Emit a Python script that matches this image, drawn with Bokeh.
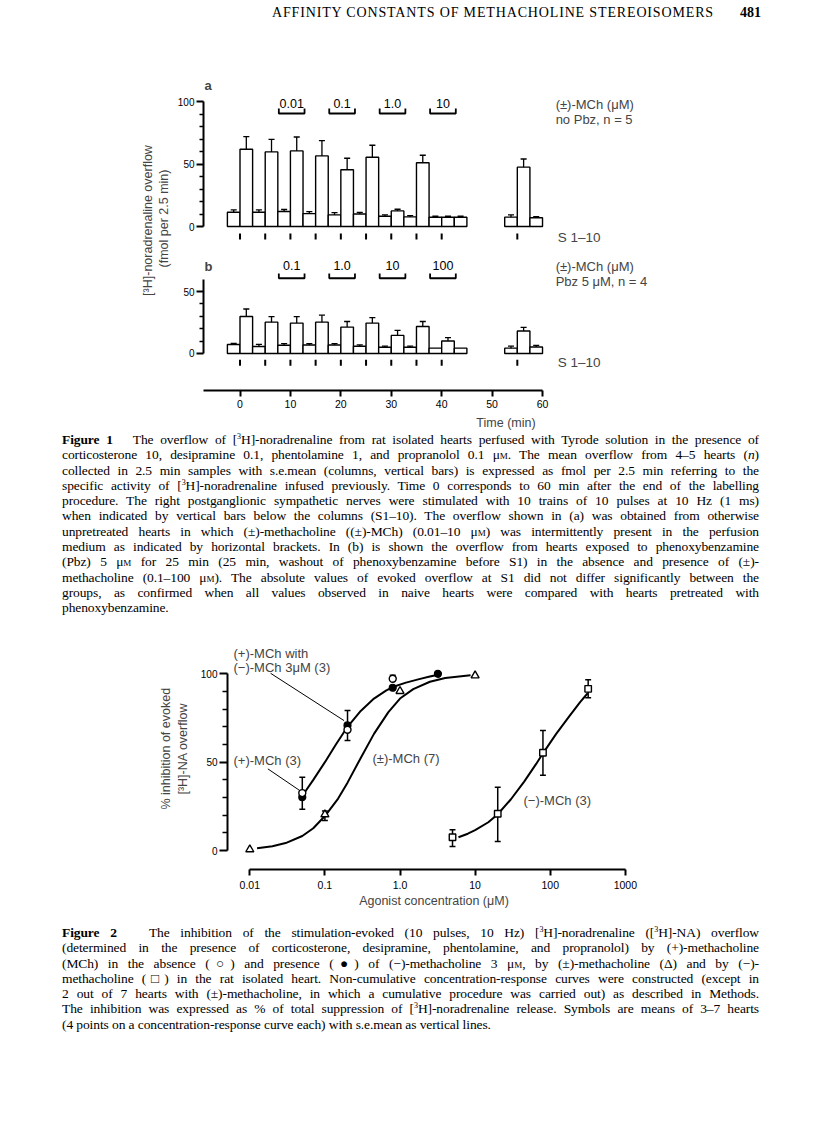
import numpy as np
from math import pi
from bokeh.plotting import figure
from bokeh.models import Range1d, FixedTicker, Label, Div, Spacer
from bokeh.layouts import column, row
from bokeh.embed import file_html
from bokeh.resources import INLINE
from bokeh.core.properties import value

SANS = "Liberation Sans"
SERIF = "Liberation Serif"

# ---------------- Figure 1 data ----------------
bin_start = [-2.5, 0.0, 2.5, 5.0, 7.5, 10.0, 12.5, 15.0, 17.5, 20.0, 22.5, 25.0,
             27.5, 30.0, 32.5, 35.0, 37.5, 40.0, 42.5, 52.5, 55.0, 57.5]
BIN_WIDTH = 2.5
a_mean = [11.4, 61.8, 11.4, 59.7, 12.0, 60.5, 10.3, 56.5, 9.3, 45.4, 10.0, 55.4,
          8.2, 12.5, 7.7, 51.0, 7.4, 7.4, 7.4, 7.5, 47.5, 7.0]
a_sem = [1.9, 10.1, 1.9, 10.0, 1.6, 11.1, 1.6, 12.2, 1.8, 9.2, 1.3, 9.6,
         1.1, 1.3, 1.0, 6.0, 0.8, 0.8, 0.8, 1.8, 6.5, 0.8]
b_mean = [7.2, 29.8, 5.6, 25.3, 6.6, 24.5, 6.9, 25.3, 6.9, 21.3, 5.9, 24.5,
          5.0, 14.6, 5.0, 21.8, 4.3, 10.1, 4.3, 4.3, 18.1, 5.3]
b_sem = [1.0, 6.1, 1.8, 4.5, 1.4, 5.3, 1.0, 5.6, 1.0, 4.5, 1.0, 4.5,
         1.0, 4.0, 1.0, 4.0, 0.0, 2.7, 0.0, 1.6, 2.9, 1.3]
stim_times = [0, 5, 10, 15, 20, 25, 30, 35, 40, 55]
drug_start = [7.7, 17.7, 27.7, 37.7]
drug_end = [12.8, 22.8, 32.8, 42.8]
a_conc_labels = ["0.01", "0.1", "1.0", "10"]
b_conc_labels = ["0.1", "1.0", "10", "100"]
time_ticks = [0, 10, 20, 30, 40, 50, 60]

# ---------------- Figure 2 data ----------------
plus_x = [0.05, 0.2, 0.8]
plus_y = [32.5, 68.3, 97.2]
plus_up = [9.0, 0.0, 2.0]
plus_dn = [0.0, 6.0, 0.0]
plusminus3_x = [0.05, 0.2, 0.8, 3.2]
plusminus3_y = [30.2, 70.8, 92.1, 100.0]
plusminus3_up = [0.0, 8.4, 0.0, 0.0]
plusminus3_dn = [6.8, 0.0, 0.0, 0.0]
race_x = [0.01, 0.1, 1.0, 10.0]
race_y = [0.6, 20.4, 90.2, 99.0]
race_up = [0.0, 2.0, 0.0, 0.0]
race_dn = [0.0, 3.4, 0.0, 0.0]
minus_x = [5.0, 20.0, 80.0, 320.0]
minus_y = [7.5, 20.8, 55.3, 91.5]
minus_up = [4.2, 15.0, 12.6, 5.1]
minus_dn = [5.2, 15.7, 12.7, 5.1]
# curves
curveA_x = [0.052, 0.07, 0.1, 0.14, 0.2, 0.3, 0.45, 0.65, 0.8, 1.2, 1.8, 2.5, 3.2]
curveA_y = [32.0, 40.0, 50.0, 60.0, 70.0, 79.0, 86.0, 90.5, 92.5, 95.0, 97.0, 98.5, 99.5]
curveB_x = [0.0125, 0.02, 0.03, 0.05, 0.07, 0.1, 0.15, 0.2, 0.3, 0.45, 0.7, 1.0, 1.5, 2.5, 4.0, 8.7]
curveB_y = [1.3, 2.4, 4.2, 8.2, 12.6, 19.5, 29.4, 38.4, 52.4, 66.0, 78.3, 86.0, 91.3, 95.5, 97.6, 99.2]
curveC_x = [6.0, 8.0, 10.0, 15.0, 20.0, 30.0, 45.0, 65.0, 80.0, 120.0, 180.0, 250.0, 315.0]
curveC_y = [7.5, 9.5, 11.5, 16.0, 20.5, 29.0, 39.0, 49.0, 55.0, 66.0, 76.0, 84.0, 89.0]
conc_ticks = [0.01, 0.1, 1.0, 10.0, 100.0, 1000.0]
conc_tick_labels = ["0.01", "0.1", "1.0", "10", "100", "1000"]


def clean(p):
    p.grid.visible = False
    p.outline_line_color = None
    p.background_fill_color = "white"
    p.border_fill_color = "white"


def style_axis(ax, font_size="10px"):
    ax.axis_line_width = 2
    ax.axis_line_color = "black"
    ax.major_tick_line_width = 2
    ax.minor_tick_line_width = 1.5
    ax.major_tick_in = 0
    ax.minor_tick_in = 0
    ax.major_label_text_font = SANS
    ax.major_label_text_font_size = font_size
    ax.major_label_text_color = "black"
    ax.axis_label_text_font = SANS
    ax.axis_label_text_font_style = "normal"
    ax.axis_label_text_font_size = "12.5px"


def label_fig(width, height, items):
    f = figure(width=width, height=height, x_range=Range1d(0, width), y_range=Range1d(0, height),
               x_axis_location=None, y_axis_location=None, toolbar_location=None,
               output_backend="svg", title=None, min_border=0)
    clean(f)
    for txt, xx, yy in items:
        f.add_layout(Label(x=xx, y=yy, text=txt, angle=pi / 2, text_font=SANS,
                           text_font_size="12.5px", text_align="center", text_baseline="middle"))
    return f


# ---------------- Figure 1 panels ----------------
PX_PER_MIN = 5.042
PANEL_W = 635
BORDER_L = 30
X0 = -7.24
x_end = X0 + (PANEL_W - BORDER_L) / PX_PER_MIN


def bar_panel(mean, sem, height, y_start, y_end, axis_top, ticks, minor, time_axis,
              border_bottom, stim_y, bracket_y, conc_labels, panel_letter, letter_y,
              right_lines, right_y, s_y):
    p = figure(width=PANEL_W, height=height,
               x_range=Range1d(X0, x_end), y_range=Range1d(y_start, y_end),
               x_axis_location="below" if time_axis else None, y_axis_location="left",
               toolbar_location=None, output_backend="svg", title=None,
               min_border_left=BORDER_L, min_border_right=0, min_border_top=0,
               min_border_bottom=border_bottom)
    clean(p)
    bs = np.array(bin_start)
    m = np.array(mean)
    e = np.array(sem)
    p.quad(left=bs, right=bs + BIN_WIDTH, bottom=0, top=m,
           fill_color="white", line_color="black", line_width=1.4)
    mid = bs + BIN_WIDTH / 2
    k = e > 0
    p.segment(x0=mid[k], y0=m[k], x1=mid[k], y1=(m + e)[k], line_color="black", line_width=1.3)
    p.segment(x0=mid[k] - 0.6, y0=(m + e)[k], x1=mid[k] + 0.6, y1=(m + e)[k],
              line_color="black", line_width=1.3)
    # stimulation marks
    st = np.array(stim_times, dtype=float)
    p.segment(x0=st, y0=np.full(len(st), stim_y[0]), x1=st, y1=np.full(len(st), stim_y[1]),
              line_color="black", line_width=2)
    # drug brackets
    xs = [[s, s, t, t] for s, t in zip(drug_start, drug_end)]
    ys = [[bracket_y[1], bracket_y[0], bracket_y[0], bracket_y[1]] for _ in drug_start]
    p.multi_line(xs=xs, ys=ys, line_color="black", line_width=1.8)
    p.text(x=[(s + t) / 2 for s, t in zip(drug_start, drug_end)],
           y=[bracket_y[2]] * len(drug_start), text=conc_labels,
           text_font=value(SANS), text_font_size="12.5px", text_align="center",
           text_baseline="middle", text_color="black")
    # axis
    ax = p.yaxis[0]
    ax.ticker = FixedTicker(ticks=ticks, minor_ticks=minor)
    ax.bounds = (0, axis_top)
    style_axis(ax)
    ax.major_tick_out = 7
    ax.minor_tick_out = 4
    ax.major_label_standoff = 2
    if time_axis:
        xa = p.xaxis[0]
        xa.ticker = FixedTicker(ticks=time_ticks)
        xa.bounds = (X0, 60)
        style_axis(xa, "10.5px")
        xa.major_tick_out = 6
        xa.major_label_standoff = 3
        xa.axis_label = "Time (min)"
        xa.axis_label_standoff = 5
    p.add_layout(Label(x=X0, y=letter_y, x_offset=1, text=panel_letter, text_font=SANS,
                       text_font_style="bold", text_font_size="13px",
                       text_align="left", text_baseline="middle"))
    for txt, yy in zip(right_lines, right_y):
        p.add_layout(Label(x=62.6, y=yy, text=txt, text_font=SANS, text_font_size="13px",
                           text_align="left", text_baseline="middle"))
    p.add_layout(Label(x=63.0, y=s_y, text="S 1\u201310", text_font=SANS,
                       text_font_size="13.5px", text_align="left", text_baseline="middle"))
    return p


pa = bar_panel(a_mean, a_sem, 178, -17.6, 124.8, 100, [0, 50, 100],
               [10, 20, 30, 40, 60, 70, 80, 90], False, 0, (-5.6, -10.4),
               (90.4, 94.4, 98.6), a_conc_labels, "a", 112.8,
               ["(\u00b1)-MCh (\u03bcM)", "no Pbz, n = 5"], [98.0, 86.0], -8.8)
pb = bar_panel(b_mean, b_sem, 184, -29.84, 84.68, 60, [0, 50],
               [10, 20, 30, 40], True, 42, (-5.0, -9.8),
               (60.7, 64.5, 71.0), b_conc_labels, "b", 70.5,
               ["(\u00b1)-MCh (\u03bcM)", "Pbz 5 \u03bcM, n = 4"], [70.2, 58.0], -7.0)

lab1 = label_fig(165, 362, [("[\u00b3H]-noradrenaline overflow", 139, 212),
                            ("(fmol per 2.5 min)", 155, 214)])

# ---------------- Figure 2 ----------------
P2_H = 309
p2 = figure(width=615, height=P2_H, x_axis_type="log",
            x_range=Range1d(0.005047, 1592), y_range=Range1d(-10.75, 118.85),
            toolbar_location=None, output_backend="svg", title=None,
            min_border_left=34, min_border_right=168, min_border_top=24, min_border_bottom=56)
clean(p2)
for cx, cy in ((curveA_x, curveA_y), (curveB_x, curveB_y), (curveC_x, curveC_y)):
    p2.line(cx, cy, line_color="black", line_width=2)

CAP = 1.095


def errbars(x, y, up, dn):
    x = np.array(x); y = np.array(y); up = np.array(up); dn = np.array(dn)
    for e, sgn in ((up, 1), (dn, -1)):
        k = e > 0
        if not k.any():
            continue
        yy = y[k] + sgn * e[k]
        p2.segment(x0=x[k], y0=y[k], x1=x[k], y1=yy, line_color="black", line_width=1.5)
        p2.segment(x0=x[k] / CAP, y0=yy, x1=x[k] * CAP, y1=yy, line_color="black", line_width=1.5)


errbars(plusminus3_x, plusminus3_y, plusminus3_up, plusminus3_dn)
errbars(plus_x, plus_y, plus_up, plus_dn)
errbars(race_x, race_y, race_up, race_dn)
errbars(minus_x, minus_y, minus_up, minus_dn)
p2.scatter(plusminus3_x, plusminus3_y, marker="circle", size=7, fill_color="black",
           line_color="black", line_width=1.2)
p2.scatter(plus_x, plus_y, marker="circle", size=7, fill_color="white",
           line_color="black", line_width=1.4)
p2.scatter(race_x, race_y, marker="triangle", size=8, fill_color="white",
           line_color="black", line_width=1.4)
p2.scatter(minus_x, minus_y, marker="square", size=6.5, fill_color="white",
           line_color="black", line_width=1.4)

ya = p2.yaxis[0]
ya.ticker = FixedTicker(ticks=[0, 50, 100], minor_ticks=[10, 20, 30, 40, 60, 70, 80, 90])
ya.bounds = (0, 100)
style_axis(ya)
ya.major_tick_out = 8
ya.minor_tick_out = 5
ya.major_label_standoff = 2

xa2 = p2.xaxis[0]
xa2.ticker = FixedTicker(ticks=conc_ticks)
xa2.bounds = (conc_ticks[0], conc_ticks[-1])
xa2.major_label_overrides = {t: s for t, s in zip(conc_ticks, conc_tick_labels)}
style_axis(xa2, "10.5px")
xa2.major_tick_out = 6
xa2.major_label_standoff = 5
xa2.axis_label = "Agonist concentration (\u03bcM)"
xa2.axis_label_standoff = 2

for txt, xx, yy in (("(+)-MCh with", 0.00607, 111.5),
                    ("(\u2212)-MCh 3\u03bcM (3)", 0.00607, 103.6),
                    ("(+)-MCh (3)", 0.00607, 50.9),
                    ("(\u00b1)-MCh (7)", 0.43, 52.1),
                    ("(\u2212)-MCh (3)", 44.1, 28.3)):
    p2.add_layout(Label(x=xx, y=yy, text=txt, text_font=SANS, text_font_size="13px",
                        text_align="left", text_baseline="middle"))
p2.segment(x0=[0.0189, 0.0174], y0=[100.3, 46.2], x1=[0.18, 0.046], y1=[73.5, 34.0],
           line_color="black", line_width=1)

lab2 = label_fig(185, P2_H, [("% inhibition of evoked", 157, 163),
                             ("[\u00b3H]-NA overflow", 174, 163)])

# ---------------- text blocks ----------------
SUP3 = '<sup style="font-size:8px;vertical-align:5px;line-height:0">3</sup>'
UM = '\u03bc<span style="font-variant:small-caps">m</span>'

header = Div(width=800, height=62, margin=0, text=(
    '<div style="position:relative;width:800px;height:62px;">'
    '<div style="position:absolute;right:47px;top:-2px;white-space:nowrap;'
    "font-family:'Liberation Serif';font-size:14px;letter-spacing:0.85px;line-height:14px;color:black;\">"
    'AFFINITY CONSTANTS OF METHACHOLINE STEREOISOMERS'
    '<b style="margin-left:26px;letter-spacing:0;">481</b></div></div>'))

LEAD = 15.3


def caption(lines, height):
    parts = []
    for i, ln in enumerate(lines):
        al = "left" if i == len(lines) - 1 else "justify"
        parts.append(f'<div style="height:{LEAD}px;line-height:{LEAD}px;white-space:nowrap;'
                     f'text-align:{al};text-align-last:{al};">{ln}</div>')
    html = ('<div style="width:697px;margin-left:54px;font-family:\'Liberation Serif\';'
            'font-size:13.5px;letter-spacing:-0.1px;color:black;">' + "".join(parts) + '</div>')
    return Div(width=800, height=int(height), margin=0, text=html)


cap1_lines = [
    f'<b>Figure 1</b>&nbsp;&nbsp; The overflow of [{SUP3}H]-noradrenaline from rat isolated hearts perfused with Tyrode solution in the presence of',
    f'corticosterone 10, desipramine 0.1, phentolamine 1, and propranolol 0.1 {UM}. The mean overflow from 4\u20135 hearts (<i>n</i>)',
    'collected in 2.5 min samples with s.e.mean (columns, vertical bars) is expressed as fmol per 2.5 min referring to the',
    f'specific activity of [{SUP3}H]-noradrenaline infused previously. Time 0 corresponds to 60 min after the end of the labelling',
    'procedure. The right postganglionic sympathetic nerves were stimulated with 10 trains of 10 pulses at 10 Hz (1 ms)',
    'when indicated by vertical bars below the columns (S1\u201310). The overflow shown in (a) was obtained from otherwise',
    f'unpretreated hearts in which (\u00b1)-methacholine ((\u00b1)-MCh) (0.01\u201310 {UM}) was intermittently present in the perfusion',
    'medium as indicated by horizontal brackets. In (b) is shown the overflow from hearts exposed to phenoxybenzamine',
    f'(Pbz) 5 {UM} for 25 min (25 min, washout of phenoxybenzamine before S1) in the absence and presence of (\u00b1)-',
    f'methacholine (0.1\u2013100 {UM}). The absolute values of evoked overflow at S1 did not differ significantly between the',
    'groups, as confirmed when all values observed in naive hearts were compared with hearts pretreated with',
    'phenoxybenzamine.',
]
cap2_lines = [
    f'<b>Figure 2</b>&nbsp;&nbsp; The inhibition of the stimulation-evoked (10 pulses, 10 Hz) [{SUP3}H]-noradrenaline ([{SUP3}H]-NA) overflow',
    '(determined in the presence of corticosterone, desipramine, phentolamine, and propranolol) by (+)-methacholine',
    f'(MCh) in the absence (\u25cb) and presence (\u25cf) of (\u2212)-methacholine 3 {UM}, by (\u00b1)-methacholine (\u0394) and by (\u2212)-',
    'methacholine (\u25a1) in the rat isolated heart. Non-cumulative concentration-response curves were constructed (except in',
    '2 out of 7 hearts with (\u00b1)-methacholine, in which a cumulative procedure was carried out) as described in Methods.',
    f'The inhibition was expressed as % of total suppression of [{SUP3}H]-noradrenaline release. Symbols are means of 3\u20137 hearts',
    '(4 points on a concentration-response curve each) with s.e.mean as vertical lines.',
]
cap1 = caption(cap1_lines, 184)
cap2 = caption(cap2_lines, 110)

fig1 = row(lab1, column(pa, pb, spacing=0), spacing=0)
fig2 = row(lab2, p2, spacing=0)
content = column(header, fig1, cap1, fig2, cap2, spacing=0)
page = column(Spacer(height=8, width=808),
              row(Spacer(width=8, height=10), content, spacing=0), spacing=0)

open("out.html", "w").write(file_html(page, INLINE, "Figures 1 and 2"))
